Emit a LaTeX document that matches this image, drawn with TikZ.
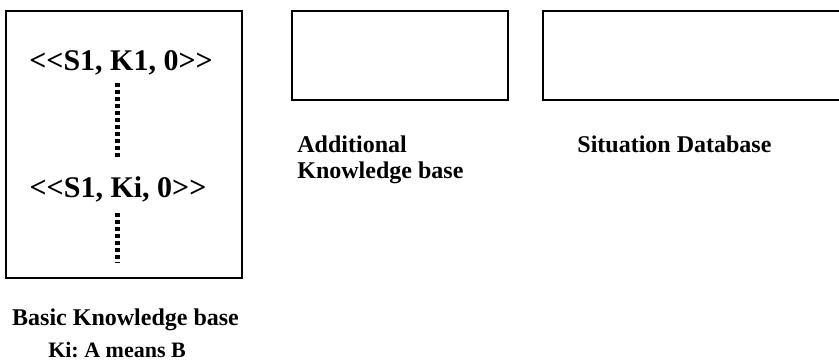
\documentclass[tikz,border=0pt]{standalone}
\usepackage{fontspec}
\setmainfont{Liberation Serif}
\frenchspacing
\usetikzlibrary{positioning}

\begin{document}
\begin{tikzpicture}[x=0.5pt,y=-0.5pt,
		box/.style={draw,line width=1pt,inner sep=0pt},
		tuple/.style={anchor=base,inner sep=0pt,font=\fontsize{15}{18}\selectfont\bfseries},
		lbl/.style={inner sep=0pt,font=\fontsize{12}{13}\selectfont\bfseries},
		dots/.style={line width=2.5pt,dash pattern=on 2pt off 1.5pt}]
			\useasboundingbox (0,0) rectangle (839,360);
			\clip (0,0) rectangle (839,360);
			\node[box,minimum width=118pt,minimum height=133.5pt] (basic) at (124,144.5) {};
			\node[box,minimum width=108pt,minimum height=44.5pt] (additional) at (400,55.5) {};
			\node[box,minimum width=151pt,minimum height=44.5pt] (situation) at (694,55.5) {};
			\node[tuple] (k1) at (121,70) {{<}{<}S1, K1, 0{>}{>}};
			\node[tuple] (ki) at (118,197) {{<}{<}S1, Ki, 0{>}{>}};
			\coordinate (d1a) at (117.5,83);
			\coordinate (d1b) at (117.5,157);
			\coordinate (d2a) at (117.5,213);
			\coordinate (d2b) at (117.5,263);
			\draw[dots] (d1a) -- (d1b);
			\draw[dots] (d2a) -- (d2b);
			\node[lbl,anchor=base] (basiclbl) at (125.5,325) {Basic Knowledge base};
			\node[lbl,anchor=base,font=\fontsize{11}{13}\selectfont\bfseries] (kilbl) at (117,357) {Ki: A means B};
			\node[lbl,anchor=base west,align=left] (addlbl) at (297,178) {Additional\\Knowledge base};
			\node[lbl,anchor=base west] (sitlbl) at (577,152) {Situation Database};
		\end{tikzpicture}
\end{document}
